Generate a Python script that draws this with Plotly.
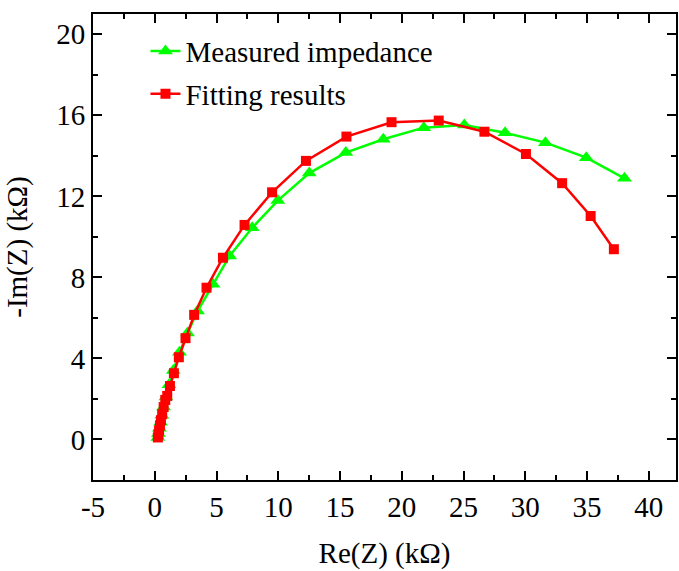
import plotly.graph_objects as go

# Measured impedance (green triangles)
meas_re = [0.25, 0.30, 0.38, 0.47, 0.58, 0.72, 0.90, 1.15, 1.50, 2.00, 2.65, 3.46, 4.72, 6.06, 7.89, 9.96, 12.51, 15.47, 18.50, 21.78, 25.06, 28.36, 31.63, 34.94, 38.03]
meas_im = [0.10, 0.30, 0.55, 0.85, 1.20, 1.60, 2.10, 2.70, 3.40, 4.30, 5.25, 6.34, 7.66, 9.06, 10.45, 11.79, 13.15, 14.16, 14.82, 15.39, 15.52, 15.14, 14.65, 13.91, 12.89]

# Fitting results (red squares)
fit_re = [0.25, 0.30, 0.35, 0.42, 0.50, 0.60, 0.72, 0.85, 1.01, 1.23, 1.55, 1.95, 2.49, 3.19, 4.19, 5.52, 7.27, 9.50, 12.24, 15.52, 19.17, 22.99, 26.69, 30.05, 32.98, 35.29, 37.17]
fit_im = [0.10, 0.25, 0.45, 0.70, 0.95, 1.25, 1.60, 1.95, 2.15, 2.64, 3.27, 4.06, 5.00, 6.15, 7.49, 8.97, 10.59, 12.20, 13.75, 14.95, 15.66, 15.74, 15.19, 14.09, 12.65, 11.03, 9.39]

x_ticks = [-5, 0, 5, 10, 15, 20, 25, 30, 35, 40]
y_ticks = [0, 4, 8, 12, 16, 20]

FONT = "Liberation Serif"

fig = go.Figure()
fig.add_trace(go.Scatter(
    x=meas_re, y=meas_im, mode="lines+markers", name="Measured impedance",
    legendgroup="a",
    line=dict(color="#00ff00", width=2.5),
    marker=dict(symbol="triangle-up", size=13, color="#00ff00"),
))
fig.add_trace(go.Scatter(
    x=fit_re, y=fit_im, mode="lines+markers", name="Fitting results",
    legendgroup="b",
    line=dict(color="#ff0000", width=2.5),
    marker=dict(symbol="square", size=10, color="#ff0000"),
))

axis_common = dict(
    showline=True, linecolor="black", linewidth=2, mirror="ticks",
    ticks="inside", ticklen=9, tickwidth=2, tickcolor="black",
    showgrid=False, zeroline=False,
    tickfont=dict(family=FONT, size=29, color="black"),
)

fig.update_xaxes(
    range=[-5, 42.2], tickvals=x_ticks, ticktext=[str(v) for v in x_ticks],
    minor=dict(ticks="inside", dtick=2.5, tick0=0, ticklen=5, tickwidth=2, tickcolor="black"),
    title=dict(text="Re(Z) (kΩ)", font=dict(family=FONT, size=29, color="black"), standoff=21),
    **axis_common,
)
fig.update_yaxes(
    range=[-2, 21], tickvals=y_ticks, ticktext=[str(v) for v in y_ticks],
    minor=dict(ticks="inside", dtick=2, tick0=0, ticklen=5, tickwidth=2, tickcolor="black"),
    title=dict(text="-Im(Z) (kΩ)", font=dict(family=FONT, size=29, color="black"), standoff=20),
    **axis_common,
)

fig.update_layout(
    width=679, height=571,
    margin=dict(l=93, r=1, t=14, b=91),
    plot_bgcolor="white", paper_bgcolor="white",
    showlegend=True,
    legend=dict(x=0.09, y=0.975, xanchor="left", yanchor="top",
                bgcolor="rgba(0,0,0,0)", font=dict(family=FONT, size=29, color="black"),
                tracegroupgap=2),
)

fig.write_html("out.html")
